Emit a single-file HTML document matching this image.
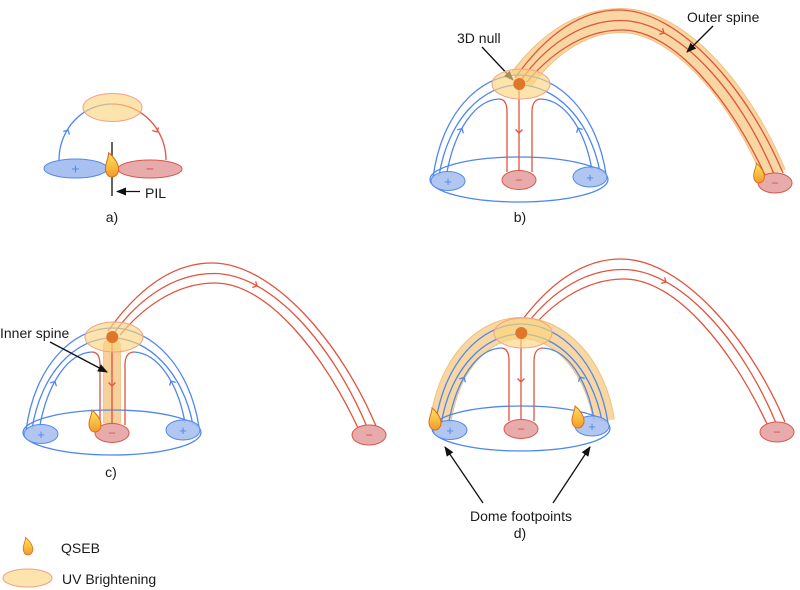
<!DOCTYPE html>
<html><head><meta charset="utf-8"><style>
html,body{margin:0;padding:0;background:#fff;}
svg{display:block;}
text{font-family:"Liberation Sans",Arial,sans-serif;fill:#1a1a1a;}
</style></head><body>
<svg width="800" height="590" viewBox="0 0 800 590" xmlns="http://www.w3.org/2000/svg">
<defs>
<marker id="ah" markerWidth="10" markerHeight="10" refX="9" refY="5" orient="auto" markerUnits="userSpaceOnUse"><path d="M0,1 L10,5 L0,9 Z" fill="#111"/></marker>
<linearGradient id="fl" x1="0" y1="0" x2="0" y2="1"><stop offset="0" stop-color="#fde85c"/><stop offset="1" stop-color="#f29a2a"/></linearGradient>
</defs>
<rect width="800" height="590" fill="#fff"/>

<!-- ===== Panel a ===== -->
<g fill="none" stroke-width="1.3">
<path d="M59,160 C59,129 82.7,104 112,104" stroke="#4f87ec"/>
<path d="M112,104 C141.3,104 166,129 166,160" stroke="#e2533f"/>
<path d="M-3.5,-3.5 L0,0 L-3.5,3.5" stroke="#4f87ec" transform="translate(68,130) rotate(-62)"/>
<path d="M-3.5,-3.5 L0,0 L-3.5,3.5" stroke="#e2533f" transform="translate(157,132) rotate(62)"/>
</g>
<ellipse cx="112.5" cy="107.5" rx="29.5" ry="14" fill="#fad680" fill-opacity="0.65" stroke="#f2a088" stroke-width="1"/>
<ellipse cx="75.5" cy="168.5" rx="31.5" ry="9.5" fill="#a9c1f0" stroke="#5089ec" stroke-width="1"/>
<text x="75.5" y="173.5" font-size="14" text-anchor="middle" style="fill:#4f87ec">+</text>
<ellipse cx="150" cy="169" rx="32" ry="9" fill="#e8abab" stroke="#d9574a" stroke-width="1"/>
<text x="150" y="173.5" font-size="14" text-anchor="middle" style="fill:#d9574a">−</text>
<line x1="112" y1="142" x2="112" y2="196" stroke="#111" stroke-width="1.3"/>
<path d="M0,0 C-4,0 -6,-4 -6,-8 C-6,-13 -3,-17 -3,-22 C2,-18 6,-12 6,-7 C6,-3 3,0 0,0 Z" fill="url(#fl)" stroke="#e06a1e" stroke-width="1" transform="translate(112,177) scale(1.1)"/>
<line x1="140" y1="191.5" x2="117" y2="191.5" stroke="#111" stroke-width="1.3" marker-end="url(#ah)"/>
<text x="145" y="198" font-size="14">PIL</text>
<text x="112" y="222" font-size="14" text-anchor="middle">a)</text>

<!-- ===== Panel b ===== -->
<g>
<!-- spine band -->
<path d="M521,80 C543,50 577,20.5 621,20.5 C678,20.5 740,92 774,174" fill="none" stroke="#f1c07e" stroke-width="25"/>
<path d="M521,80 C543,50 577,20.5 621,20.5 C678,20.5 740,92 774,174" fill="none" stroke="#f8d7a2" stroke-width="23"/>
<g fill="none" stroke="#e2533f" stroke-width="1.3">
<path d="M515,78 C540,43 574,10 619,10 C680,10 748,90 783,173"/>
<path d="M521,80 C543,50 577,20.5 621,20.5 C678,20.5 740,92 774,174"/>
<path d="M527,82 C547,58 580,30 622,30 C674,30 730,100 765,175"/>
<path d="M-3.5,-3.5 L0,0 L-3.5,3.5" transform="translate(664,33) rotate(29)"/>
</g>
<!-- dome -->
<ellipse cx="519" cy="179.5" rx="89" ry="22.5" fill="none" stroke="#4f87ec" stroke-width="1.3"/>
<g fill="none" stroke-width="1.3">
<path d="M433,178 C441,114 479,75 519,75 C559,75 597,114 606,174" stroke="#4f87ec"/>
<path d="M439,176 C448,119 483,85 519,85 C555,85 590,119 600,172" stroke="#4f87ec"/>
<path d="M447,172 C455,130 475,100 499,99" stroke="#4f87ec"/>
<path d="M592,170 C585,130 565,100 541,99" stroke="#4f87ec"/>
<path d="M499,99 C505,99 507,104 507,112 L507,172" stroke="#e2533f"/>
<path d="M541,99 C535,99 532,104 532,112 L532,172" stroke="#e2533f"/>
<path d="M519,84 L519,172" stroke="#e2533f"/>
<path d="M-3.5,-3.5 L0,0 L-3.5,3.5" stroke="#4f87ec" transform="translate(462,128.5) rotate(-61)"/>
<path d="M-3.5,-3.5 L0,0 L-3.5,3.5" stroke="#4f87ec" transform="translate(578,128) rotate(-118)"/>
<path d="M-3.5,-3.5 L0,0 L-3.5,3.5" stroke="#e2533f" transform="translate(519,133) rotate(90)"/>
</g>
<line x1="482" y1="47" x2="513" y2="80" stroke="#111" stroke-width="1.3" marker-end="url(#ah)"/>
<ellipse cx="521" cy="84" rx="29" ry="15" fill="#fad680" fill-opacity="0.65" stroke="#f2a088" stroke-width="1"/>
<circle cx="519.3" cy="84" r="6" fill="#e0762a"/>
<ellipse cx="448" cy="181" rx="17" ry="9.5" fill="#a9c1f0" fill-opacity="0.9" stroke="#5089ec" stroke-width="1"/>
<text x="448" y="186" font-size="13" text-anchor="middle" style="fill:#4f87ec">+</text>
<ellipse cx="519" cy="180" rx="17" ry="9.5" fill="#e8abab" stroke="#d9574a" stroke-width="1"/>
<text x="519" y="184.5" font-size="13" text-anchor="middle" style="fill:#d9574a">−</text>
<ellipse cx="590" cy="177" rx="17" ry="10" fill="#a9c1f0" fill-opacity="0.9" stroke="#5089ec" stroke-width="1"/>
<text x="590" y="182" font-size="13" text-anchor="middle" style="fill:#4f87ec">+</text>
<ellipse cx="775" cy="183" rx="17" ry="10" fill="#e8abab" stroke="#d9574a" stroke-width="1"/>
<text x="775" y="187.5" font-size="13" text-anchor="middle" style="fill:#d9574a">−</text>
<path d="M0,0 C-4,0 -6,-4 -6,-8 C-6,-13 -3,-17 -3,-22 C2,-18 6,-12 6,-7 C6,-3 3,0 0,0 Z" fill="url(#fl)" stroke="#e06a1e" stroke-width="1" transform="translate(759,183) scale(0.9)"/>
<line x1="713" y1="26" x2="687" y2="52" stroke="#111" stroke-width="1.3" marker-end="url(#ah)"/>
</g>
<text x="457" y="43" font-size="14">3D null</text>
<text x="687" y="22" font-size="14">Outer spine</text>
<text x="520" y="222" font-size="14" text-anchor="middle">b)</text>

<!-- ===== Panel c ===== -->
<g transform="translate(-407,253)">
<g fill="none" stroke="#e2533f" stroke-width="1.3">
<path d="M515,78 C540,43 574,10 619,10 C680,10 748,90 783,173"/>
<path d="M521,80 C543,50 577,20.5 621,20.5 C678,20.5 740,92 774,174"/>
<path d="M527,82 C547,58 580,30 622,30 C674,30 730,100 765,175"/>
<path d="M-3.5,-3.5 L0,0 L-3.5,3.5" transform="translate(664,33) rotate(29)"/>
</g>
<path d="M510.5,170 L510.5,93 A8.5,8.5 0 0 1 527.5,93 L527.5,170 Z" fill="#f7d199" stroke="#f1c07e" stroke-width="0.8"/>
<ellipse cx="519" cy="179.5" rx="89" ry="22.5" fill="none" stroke="#4f87ec" stroke-width="1.3"/>
<g fill="none" stroke-width="1.3">
<path d="M433,178 C441,114 479,75 519,75 C559,75 597,114 606,174" stroke="#4f87ec"/>
<path d="M439,176 C448,119 483,85 519,85 C555,85 590,119 600,172" stroke="#4f87ec"/>
<path d="M447,172 C455,130 475,100 499,99" stroke="#4f87ec"/>
<path d="M592,170 C585,130 565,100 541,99" stroke="#4f87ec"/>
<path d="M499,99 C505,99 507,104 507,112 L507,172" stroke="#e2533f"/>
<path d="M541,99 C535,99 532,104 532,112 L532,172" stroke="#e2533f"/>
<path d="M519,84 L519,172" stroke="#e2533f"/>
<path d="M-3.5,-3.5 L0,0 L-3.5,3.5" stroke="#4f87ec" transform="translate(462,128.5) rotate(-61)"/>
<path d="M-3.5,-3.5 L0,0 L-3.5,3.5" stroke="#4f87ec" transform="translate(578,128) rotate(-118)"/>
<path d="M-3.5,-3.5 L0,0 L-3.5,3.5" stroke="#e2533f" transform="translate(519,133) rotate(90)"/>
</g>
<ellipse cx="521" cy="84" rx="29" ry="15" fill="#fad680" fill-opacity="0.65" stroke="#f2a088" stroke-width="1"/>
<circle cx="519.3" cy="84" r="6" fill="#e0762a"/>
<ellipse cx="448" cy="181" rx="17" ry="9.5" fill="#a9c1f0" fill-opacity="0.9" stroke="#5089ec" stroke-width="1"/>
<text x="448" y="186" font-size="13" text-anchor="middle" style="fill:#4f87ec">+</text>
<ellipse cx="519" cy="180" rx="17" ry="9.5" fill="#e8abab" stroke="#d9574a" stroke-width="1"/>
<text x="519" y="184.5" font-size="13" text-anchor="middle" style="fill:#d9574a">−</text>
<ellipse cx="590" cy="177" rx="17" ry="10" fill="#a9c1f0" fill-opacity="0.9" stroke="#5089ec" stroke-width="1"/>
<text x="590" y="182" font-size="13" text-anchor="middle" style="fill:#4f87ec">+</text>
<ellipse cx="776" cy="182" rx="17" ry="10" fill="#e8abab" stroke="#d9574a" stroke-width="1"/>
<text x="776" y="186.5" font-size="13" text-anchor="middle" style="fill:#d9574a">−</text>
<path d="M0,0 C-4,0 -6,-4 -6,-8 C-6,-13 -3,-17 -3,-22 C2,-18 6,-12 6,-7 C6,-3 3,0 0,0 Z" fill="url(#fl)" stroke="#e06a1e" stroke-width="1" transform="translate(502,179)"/>
</g>
<line x1="50" y1="342" x2="107" y2="372" stroke="#111" stroke-width="1.3" marker-end="url(#ah)"/>
<text x="0" y="338" font-size="14">Inner spine</text>
<text x="111" y="477" font-size="14" text-anchor="middle">c)</text>

<!-- ===== Panel d ===== -->
<g transform="translate(2,249)">
<g fill="none" stroke="#e2533f" stroke-width="1.3">
<path d="M515,78 C540,43 574,10 619,10 C680,10 748,90 783,173"/>
<path d="M521,80 C543,50 577,20.5 621,20.5 C678,20.5 740,92 774,174"/>
<path d="M527,82 C547,58 580,30 622,30 C674,30 730,100 765,175"/>
<path d="M-3.5,-3.5 L0,0 L-3.5,3.5" transform="translate(664,33) rotate(29)"/>
</g>
<path d="M438,176 C446,115 481,79 519,79 C557,79 593,115 602,172" fill="none" stroke="#f1c07e" stroke-width="22"/>
<path d="M438,176 C446,115 481,79 519,79 C557,79 593,115 602,172" fill="none" stroke="#f8d7a2" stroke-width="20"/>
<ellipse cx="519" cy="179.5" rx="89" ry="22.5" fill="none" stroke="#4f87ec" stroke-width="1.3"/>
<g fill="none" stroke-width="1.3">
<path d="M433,178 C441,114 479,75 519,75 C559,75 597,114 606,174" stroke="#4f87ec"/>
<path d="M439,176 C448,119 483,85 519,85 C555,85 590,119 600,172" stroke="#4f87ec"/>
<path d="M447,172 C455,130 475,100 499,99" stroke="#4f87ec"/>
<path d="M592,170 C585,130 565,100 541,99" stroke="#4f87ec"/>
<path d="M499,99 C505,99 507,104 507,112 L507,172" stroke="#e2533f"/>
<path d="M541,99 C535,99 532,104 532,112 L532,172" stroke="#e2533f"/>
<path d="M519,84 L519,172" stroke="#e2533f"/>
<path d="M-3.5,-3.5 L0,0 L-3.5,3.5" stroke="#4f87ec" transform="translate(462,128.5) rotate(-61)"/>
<path d="M-3.5,-3.5 L0,0 L-3.5,3.5" stroke="#4f87ec" transform="translate(578,128) rotate(-118)"/>
<path d="M-3.5,-3.5 L0,0 L-3.5,3.5" stroke="#e2533f" transform="translate(519,133) rotate(90)"/>
</g>
<ellipse cx="521" cy="84" rx="29" ry="15" fill="#fad680" fill-opacity="0.65" stroke="#f2a088" stroke-width="1"/>
<circle cx="519.3" cy="84" r="6" fill="#e0762a"/>
<ellipse cx="448" cy="181" rx="17" ry="9.5" fill="#a9c1f0" fill-opacity="0.9" stroke="#5089ec" stroke-width="1"/>
<text x="448" y="186" font-size="13" text-anchor="middle" style="fill:#4f87ec">+</text>
<ellipse cx="519" cy="180" rx="17" ry="9.5" fill="#e8abab" stroke="#d9574a" stroke-width="1"/>
<text x="519" y="184.5" font-size="13" text-anchor="middle" style="fill:#d9574a">−</text>
<ellipse cx="590" cy="177" rx="17" ry="10" fill="#a9c1f0" fill-opacity="0.9" stroke="#5089ec" stroke-width="1"/>
<text x="590" y="182" font-size="13" text-anchor="middle" style="fill:#4f87ec">+</text>
<ellipse cx="775" cy="183" rx="17" ry="10" fill="#e8abab" stroke="#d9574a" stroke-width="1"/>
<text x="775" y="187.5" font-size="13" text-anchor="middle" style="fill:#d9574a">−</text>
<path d="M0,0 C-4,0 -6,-4 -6,-8 C-6,-13 -3,-17 -3,-22 C2,-18 6,-12 6,-7 C6,-3 3,0 0,0 Z" fill="url(#fl)" stroke="#e06a1e" stroke-width="1" transform="translate(433,181)"/>
<path d="M0,0 C-4,0 -6,-4 -6,-8 C-6,-13 -3,-17 -3,-22 C2,-18 6,-12 6,-7 C6,-3 3,0 0,0 Z" fill="url(#fl)" stroke="#e06a1e" stroke-width="1" transform="translate(576,179)"/>
</g>
<line x1="483" y1="503" x2="445" y2="447" stroke="#111" stroke-width="1.3" marker-end="url(#ah)"/>
<line x1="553" y1="503" x2="590" y2="447" stroke="#111" stroke-width="1.3" marker-end="url(#ah)"/>
<text x="521" y="521" font-size="14" text-anchor="middle">Dome footpoints</text>
<text x="520" y="538" font-size="14" text-anchor="middle">d)</text>

<!-- ===== Legend ===== -->
<path d="M0,0 C-4,0 -6,-4 -6,-8 C-6,-13 -3,-17 -3,-22 C2,-18 6,-12 6,-7 C6,-3 3,0 0,0 Z" fill="url(#fl)" stroke="#e06a1e" stroke-width="1" transform="translate(28,555) scale(0.8)"/>
<text x="61" y="553" font-size="14">QSEB</text>
<ellipse cx="27.5" cy="578" rx="24.5" ry="9" fill="#fad680" fill-opacity="0.65" stroke="#f2a088" stroke-width="1"/>
<text x="62" y="584" font-size="14">UV Brightening</text>
</svg>
</body></html>
